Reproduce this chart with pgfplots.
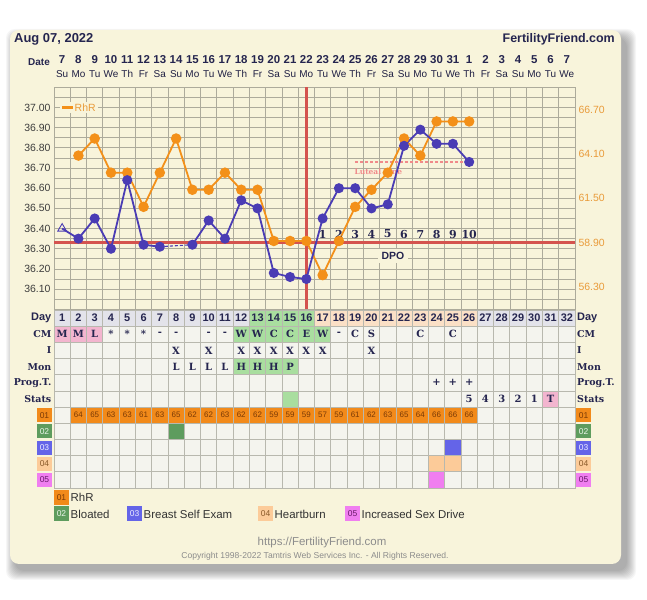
\documentclass[border=0pt]{standalone}
\usepackage{pgfplots}
\pgfplotsset{compat=1.18}
\usepackage{pgfplotstable}
\usepackage{fontspec}
\setmainfont{Liberation Sans}
\newfontfamily\slab{DejaVu Serif}
\definecolor{navy}{HTML}{25254F}
\definecolor{gridc}{HTML}{ADAB9B}
\definecolor{tgrid}{HTML}{B8B8AE}
\definecolor{ticktext}{HTML}{3C3C3C}
\definecolor{rlabel}{HTML}{E99B3A}
\definecolor{rorange}{HTML}{F39019}
\definecolor{tblue}{HTML}{4A3CB4}
\definecolor{redl}{HTML}{D4534E}
\definecolor{lutc}{HTML}{F08A8A}
\definecolor{card}{HTML}{F8F4DB}
\definecolor{cell}{HTML}{F4F4EE}
\definecolor{dayc}{HTML}{E3E3EA}
\definecolor{greenc}{HTML}{A9DE9F}
\definecolor{peach}{HTML}{FBE0C6}
\definecolor{pinkc}{HTML}{F3B5CF}
\definecolor{o1}{HTML}{F28A1A}
\definecolor{o1t}{HTML}{7A3A06}
\definecolor{o2}{HTML}{5E9C5E}
\definecolor{o2t}{HTML}{EAF5EA}
\definecolor{o3}{HTML}{6464E8}
\definecolor{o3t}{HTML}{EEEEFF}
\definecolor{o4}{HTML}{FCCB99}
\definecolor{o4t}{HTML}{8A5A2A}
\definecolor{o5}{HTML}{F07EF0}
\definecolor{o5t}{HTML}{6A1A6A}
\definecolor{legtext}{HTML}{333333}
\definecolor{foot}{HTML}{8C8C8C}
\newcommand{\fs}[1]{\fontsize{#1}{#1}\selectfont}
% table cells
\newcommand{\cell}[4]{\node[fill=#1, minimum width=16.28bp, minimum height=16.18bp, inner sep=0pt, text=navy, font=\slab\bfseries\fs{10}] at (axis cs:#2,#3) {#4};}
\newcommand{\tcell}[3]{\node[text=navy, font=\slab\bfseries\fs{10}, inner sep=0pt] at (axis cs:#1,#2) {#3};}
\newcommand{\dcell}[2]{\node[fill=#1, minimum width=16.28bp, minimum height=16.18bp, inner sep=0pt, text=navy, font=\bfseries\fs{11}] at (axis cs:#2,1) {#2};}
\newcommand{\rcell}[2]{\node[fill=o1, minimum width=16.28bp, minimum height=16.18bp, inner sep=0pt, text=o1t, font=\fs{8}] at (axis cs:#1,7) {#2};}
\newcommand{\dpo}[2]{\node[text=navy, font=\slab\bfseries\fs{11}, inner sep=0pt] at (axis cs:#1,36.373) {#2};}

\pgfplotstableread{
day rhr
2 64
3 65
4 63
5 63
6 61
7 63
8 65
9 62
10 62
11 63
12 62
13 62
14 59
15 59
16 59
17 57
18 59
19 61
20 62
21 63
22 65
23 64
24 66
25 66
26 66
}\rhrtab

\pgfplotstableread{
day temp
2 36.35
3 36.45
4 36.30
5 36.64
6 36.32
7 36.31
8 nan
9 36.32
10 36.44
11 36.35
12 36.54
13 36.50
14 36.18
15 36.16
16 36.15
17 36.45
18 36.60
19 36.60
20 36.50
21 36.52
22 36.81
23 36.89
24 36.82
25 36.82
26 36.73
}\temptab

\begin{document}
\begin{tikzpicture}[x=1bp,y=1bp]
\useasboundingbox (0,0) rectangle (647,600);
\fill[white] (0,0) rectangle (647,600);
% card shadow and card
\foreach \s in {0,...,9} {\fill[black, opacity=0.035, rounded corners=9bp] (15-\s,29-\s) rectangle (627+\s,562+\s);}
\fill[card, rounded corners=9bp] (10,36) rectangle (621,570);

% header
\node[anchor=base west, font=\bfseries\fs{13}, text=navy, inner sep=0pt] at (14,557) {Aug 07, 2022};
\node[anchor=base east, font=\bfseries\fs{12.5}, text=navy, inner sep=0pt] at (615,557) {FertilityFriend.com};
\node[anchor=base east, font=\bfseries\fs{10}, text=navy, inner sep=0pt] at (50,534) {Date};
\foreach \n [count=\i] in {7,8,9,10,11,12,13,14,15,16,17,18,19,20,21,22,23,24,25,26,27,28,29,30,31,1,2,3,4,5,6,7}
  {\node[anchor=base, font=\bfseries\fs{11.5}, text=navy, inner sep=0pt] at ({54+(\i-0.5)*16.28125},536.5) {\n};}
\foreach \w [count=\i] in {Su,Mo,Tu,We,Th,Fr,Sa,Su,Mo,Tu,We,Th,Fr,Sa,Su,Mo,Tu,We,Th,Fr,Sa,Su,Mo,Tu,We,Th,Fr,Sa,Su,Mo,Tu,We}
  {\node[anchor=base, font=\fs{10}, text=navy!85!black, inner sep=0pt] at ({54+(\i-0.5)*16.28125},522.5) {\w};}

% main chart (temperature axis)
\begin{axis}[
  at={(54bp,290.7bp)}, anchor=south west, scale only axis,
  width=521bp, height=222bp,
  xmin=0.5, xmax=32.5, ymin=36.0, ymax=37.1,
  axis background/.style={fill=card},
  xtick={1.5,2.5,...,31.5}, xticklabels={},
  ytick={36.1,36.2,36.3,36.4,36.5,36.6,36.7,36.8,36.9,37.0},
  minor ytick={36.05,36.15,36.25,36.35,36.45,36.55,36.65,36.75,36.85,36.95,37.05},
  grid=both,
  major grid style={draw=gridc, line width=0.7bp},
  minor grid style={draw=gridc, line width=0.7bp},
  axis line style={draw=gridc, line width=0.7bp},
  major tick length=0pt, minor tick length=0pt,
  yticklabel style={font=\fs{10.5}, text=ticktext},
  /pgf/number format/assume math mode=true,
  yticklabel={\pgfmathprintnumber[fixed,fixed zerofill,precision=2]{\tick}},
  clip=false,
]
% legend box
\node[anchor=west, fill=card, inner xsep=2bp, inner ysep=2bp, text=rlabel, font=\fs{10.5}] at (axis cs:0.87,37.0) {\textcolor{rorange}{\rule[2.6bp]{10.5bp}{2.8bp}}\hspace{2bp}RhR\hspace{12bp}};
% cover line and ovulation line
\draw[redl, line width=2.4bp] (axis cs:0.5,36.33) -- (axis cs:32.5,36.33);
\draw[redl, line width=2.4bp] (axis cs:16,36.0) -- (axis cs:16,37.1);
% luteal line
\draw[lutc, line width=1.8bp, dash pattern=on 3bp off 2bp] (axis cs:19,36.73) -- (axis cs:26,36.73);
\node[anchor=west, text=lutc, font=\slab\bfseries\fs{7.5}, inner sep=0pt] at (axis cs:18.95,36.683) {Luteal Line};
% RhR series (right scale 55..68 mapped onto 36.0..37.1)
\addplot[rorange, line width=1.8bp, mark=*, mark size=4.3bp, mark options={fill=rorange, draw=rorange}]
  table[x=day, y expr={36+(\thisrow{rhr}-55)*1.1/13}] {\rhrtab};
% temperature series
\addplot[tblue, line width=1.8bp, forget plot] coordinates {(1,36.40) (2,36.35)};
\addplot[tblue, line width=1.1bp, dash pattern=on 3bp off 2bp] coordinates {(7,36.31) (9,36.32)};
\addplot[tblue, line width=1.8bp, mark=*, mark size=4.1bp, mark options={fill=tblue, draw=tblue}, unbounded coords=jump]
  table[x=day, y=temp] {\temptab};
\addplot[only marks, mark=triangle, mark size=5bp, mark options={fill=card, draw=tblue, line width=0.9bp}] coordinates {(1,36.40)};
% DPO labels
\dpo{17}{1}\dpo{18}{2}\dpo{19}{3}\dpo{20}{4}\dpo{21}{5}\dpo{22}{6}\dpo{23}{7}\dpo{24}{8}\dpo{25}{9}\dpo{26}{10}
\node[fill=card, text=navy, font=\bfseries\fs{10.5}, inner xsep=4bp, inner ysep=3bp] at (axis cs:21.32,36.264) {DPO};
\end{axis}

% right-hand RhR scale
\begin{axis}[
  at={(54bp,290.7bp)}, anchor=south west, scale only axis,
  width=521bp, height=222bp,
  xmin=0.5, xmax=32.5, ymin=55, ymax=68,
  axis y line*=right, axis x line=none,
  y axis line style={draw=none},
  ytick={56.3,58.9,61.5,64.1,66.7},
  major tick length=0pt,
  yticklabel style={font=\fs{10.5}, text=rlabel},
  /pgf/number format/assume math mode=true,
  yticklabel={\pgfmathprintnumber[fixed,fixed zerofill,precision=2]{\tick}},
]
\end{axis}

% data table below
\begin{axis}[
  at={(54bp,112bp)}, anchor=south west, scale only axis,
  width=521bp, height=178bp,
  xmin=0.5, xmax=32.5, ymin=0.5, ymax=11.5, y dir=reverse,
  xtick={1.5,2.5,...,31.5}, ytick={1.5,2.5,...,10.5},
  xticklabels={}, yticklabels={},
  grid=major, major grid style={draw=tgrid, line width=0.8bp},
  axis line style={draw=tgrid, line width=0.8bp},
  major tick length=0pt,
  axis on top, clip=false,
  axis background/.style={fill=cell},
]
% Day row
\pgfplotsinvokeforeach{1,...,12}{\dcell{dayc}{#1}}
\pgfplotsinvokeforeach{13,...,16}{\dcell{greenc}{#1}}
\pgfplotsinvokeforeach{17,...,26}{\dcell{peach}{#1}}
\pgfplotsinvokeforeach{27,...,32}{\dcell{dayc}{#1}}
% CM row
\cell{pinkc}{1}{2}{M}\cell{pinkc}{2}{2}{M}\cell{pinkc}{3}{2}{L}
\tcell{4}{2}{*}\tcell{5}{2}{*}\tcell{6}{2}{*}\tcell{7}{2}{-}\tcell{8}{2}{-}\tcell{10}{2}{-}\tcell{11}{2}{-}
\cell{greenc}{12}{2}{W}\cell{greenc}{13}{2}{W}\cell{greenc}{14}{2}{C}\cell{greenc}{15}{2}{C}\cell{greenc}{16}{2}{E}\cell{greenc}{17}{2}{W}
\tcell{18}{2}{-}\tcell{19}{2}{C}\tcell{20}{2}{S}\tcell{23}{2}{C}\tcell{25}{2}{C}
% I row
\tcell{8}{3}{X}\tcell{10}{3}{X}\tcell{12}{3}{X}\tcell{13}{3}{X}\tcell{14}{3}{X}\tcell{15}{3}{X}\tcell{16}{3}{X}\tcell{17}{3}{X}\tcell{20}{3}{X}
% Mon row
\tcell{8}{4}{L}\tcell{9}{4}{L}\tcell{10}{4}{L}\tcell{11}{4}{L}
\cell{greenc}{12}{4}{H}\cell{greenc}{13}{4}{H}\cell{greenc}{14}{4}{H}\cell{greenc}{15}{4}{P}
% Prog.T. row
\tcell{24}{5}{+}\tcell{25}{5}{+}\tcell{26}{5}{+}
% Stats row
\cell{greenc}{15}{6}{}
\tcell{26}{6}{5}\tcell{27}{6}{4}\tcell{28}{6}{3}\tcell{29}{6}{2}\tcell{30}{6}{1}\cell{pinkc}{31}{6}{T}
% 01 RhR row
\rcell{2}{64}\rcell{3}{65}\rcell{4}{63}\rcell{5}{63}\rcell{6}{61}\rcell{7}{63}\rcell{8}{65}\rcell{9}{62}\rcell{10}{62}
\rcell{11}{63}\rcell{12}{62}\rcell{13}{62}\rcell{14}{59}\rcell{15}{59}\rcell{16}{59}\rcell{17}{57}\rcell{18}{59}
\rcell{19}{61}\rcell{20}{62}\rcell{21}{63}\rcell{22}{65}\rcell{23}{64}\rcell{24}{66}\rcell{25}{66}\rcell{26}{66}
% symptoms
\cell{o2}{8}{8}{}
\cell{o3}{25}{9}{}
\cell{o4}{24}{10}{}\cell{o4}{25}{10}{}
\cell{o5}{24}{11}{}
% left labels
\node[anchor=east, xshift=-2.5bp, text=navy, font=\bfseries\fs{11}, inner sep=0pt] at (axis cs:0.5,1) {Day};
\node[anchor=east, xshift=-2.5bp, text=navy, font=\slab\bfseries\fs{9.5}, inner sep=0pt] at (axis cs:0.5,2) {CM};
\node[anchor=east, xshift=-2.5bp, text=navy, font=\slab\bfseries\fs{9.5}, inner sep=0pt] at (axis cs:0.5,3) {I};
\node[anchor=east, xshift=-2.5bp, text=navy, font=\slab\bfseries\fs{9.5}, inner sep=0pt] at (axis cs:0.5,4) {Mon};
\node[anchor=east, xshift=-2.5bp, text=navy, font=\slab\bfseries\fs{9.5}, inner sep=0pt] at (axis cs:0.5,5) {Prog.T.};
\node[anchor=east, xshift=-2.5bp, text=navy, font=\slab\bfseries\fs{9.5}, inner sep=0pt] at (axis cs:0.5,6) {Stats};
\node[xshift=-9.5bp, fill=o1, text=o1t, minimum width=15bp, minimum height=14bp, inner sep=0pt, font=\fs{8.5}] at (axis cs:0.5,7) {01};
\node[xshift=-9.5bp, fill=o2, text=o2t, minimum width=15bp, minimum height=14bp, inner sep=0pt, font=\fs{8.5}] at (axis cs:0.5,8) {02};
\node[xshift=-9.5bp, fill=o3, text=o3t, minimum width=15bp, minimum height=14bp, inner sep=0pt, font=\fs{8.5}] at (axis cs:0.5,9) {03};
\node[xshift=-9.5bp, fill=o4, text=o4t, minimum width=15bp, minimum height=14bp, inner sep=0pt, font=\fs{8.5}] at (axis cs:0.5,10) {04};
\node[xshift=-9.5bp, fill=o5, text=o5t, minimum width=15bp, minimum height=14bp, inner sep=0pt, font=\fs{8.5}] at (axis cs:0.5,11) {05};
% right labels
\node[anchor=west, xshift=2bp, text=navy, font=\bfseries\fs{11}, inner sep=0pt] at (axis cs:32.5,1) {Day};
\node[anchor=west, xshift=2bp, text=navy, font=\slab\bfseries\fs{9.5}, inner sep=0pt] at (axis cs:32.5,2) {CM};
\node[anchor=west, xshift=2bp, text=navy, font=\slab\bfseries\fs{9.5}, inner sep=0pt] at (axis cs:32.5,3) {I};
\node[anchor=west, xshift=2bp, text=navy, font=\slab\bfseries\fs{9.5}, inner sep=0pt] at (axis cs:32.5,4) {Mon};
\node[anchor=west, xshift=2bp, text=navy, font=\slab\bfseries\fs{9.5}, inner sep=0pt] at (axis cs:32.5,5) {Prog.T.};
\node[anchor=west, xshift=2bp, text=navy, font=\slab\bfseries\fs{9.5}, inner sep=0pt] at (axis cs:32.5,6) {Stats};
\node[xshift=8.5bp, fill=o1, text=o1t, minimum width=15bp, minimum height=14bp, inner sep=0pt, font=\fs{8.5}] at (axis cs:32.5,7) {01};
\node[xshift=8.5bp, fill=o2, text=o2t, minimum width=15bp, minimum height=14bp, inner sep=0pt, font=\fs{8.5}] at (axis cs:32.5,8) {02};
\node[xshift=8.5bp, fill=o3, text=o3t, minimum width=15bp, minimum height=14bp, inner sep=0pt, font=\fs{8.5}] at (axis cs:32.5,9) {03};
\node[xshift=8.5bp, fill=o4, text=o4t, minimum width=15bp, minimum height=14bp, inner sep=0pt, font=\fs{8.5}] at (axis cs:32.5,10) {04};
\node[xshift=8.5bp, fill=o5, text=o5t, minimum width=15bp, minimum height=14bp, inner sep=0pt, font=\fs{8.5}] at (axis cs:32.5,11) {05};
\end{axis}

% legend below the table
\node[fill=o1, text=o1t, minimum width=15bp, minimum height=15bp, inner sep=0pt, font=\fs{8.5}] at (61.5,102.3) {01};
\node[anchor=west, text=legtext, font=\fs{11.5}, inner sep=0pt] at (70.5,102.3) {RhR};
\node[fill=o2, text=o2t, minimum width=15bp, minimum height=15bp, inner sep=0pt, font=\fs{8.5}] at (61.5,86) {02};
\node[anchor=west, text=legtext, font=\fs{11.5}, inner sep=0pt] at (70.5,86) {Bloated};
\node[fill=o3, text=o3t, minimum width=15bp, minimum height=15bp, inner sep=0pt, font=\fs{8.5}] at (134.5,86) {03};
\node[anchor=west, text=legtext, font=\fs{11.5}, inner sep=0pt] at (143.5,86) {Breast Self Exam};
\node[fill=o4, text=o4t, minimum width=15bp, minimum height=15bp, inner sep=0pt, font=\fs{8.5}] at (265.5,86) {04};
\node[anchor=west, text=legtext, font=\fs{11.5}, inner sep=0pt] at (274.5,86) {Heartburn};
\node[fill=o5, text=o5t, minimum width=15bp, minimum height=15bp, inner sep=0pt, font=\fs{8.5}] at (352.5,86) {05};
\node[anchor=west, text=legtext, font=\fs{11.5}, inner sep=0pt] at (361.5,86) {Increased Sex Drive};
% footer
\node[text=foot, font=\fs{11.5}, inner sep=0pt] at (322,57) {https://FertilityFriend.com};
\node[text=foot, font=\fs{8.6}, inner sep=0pt] at (315,44) {Copyright 1998-2022 Tamtris Web Services Inc. - All Rights Reserved.};
\end{tikzpicture}
\end{document}
